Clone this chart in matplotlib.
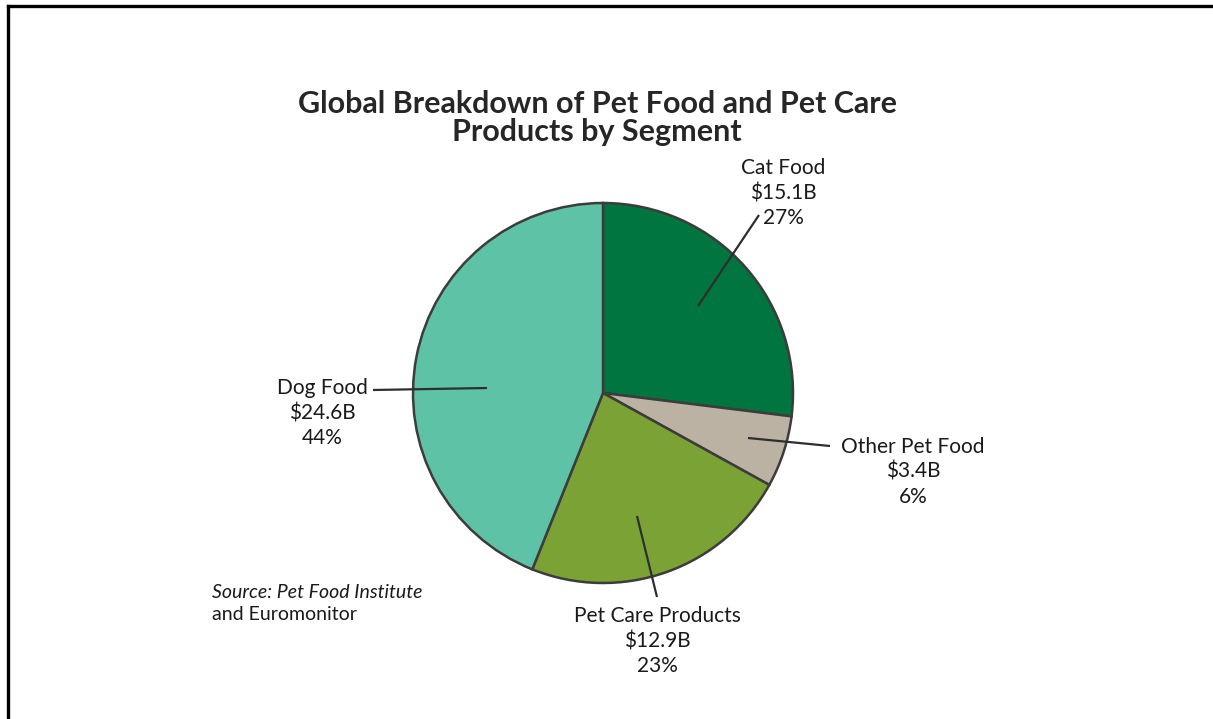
import matplotlib.pyplot as plt
from matplotlib.lines import Line2D

# segment values, in billions of dollars
segments = ['Cat Food', 'Other Pet Food', 'Pet Care Products', 'Dog Food']
sales = [15.1, 3.4, 12.9, 24.6]
shares = [27, 6, 23, 44]
colors = ['#007540', '#bcb2a3', '#7ba234', '#5ec3a6']

W, H = 1213, 719
CENTER = (603, H - 393)
RADIUS = 190

# label placement: (text x, text y, leader start, leader end), in pixels from top-left
layout = {
    'Cat Food': (783, 193, (698, 306), (759, 215)),
    'Other Pet Food': (913, 472, (748, 438), (830, 446)),
    'Pet Care Products': (657, 641, (637, 516), (657, 597)),
    'Dog Food': (322, 413, (487, 388), (373, 390)),
}

plt.rcParams['font.family'] = ['Lato', 'DejaVu Sans']

fig = plt.figure(figsize=(W / 100, H / 100), dpi=100)
ax = fig.add_axes([0, 0, 1, 1])

ax.pie(sales, colors=colors, startangle=90, counterclock=False,
       center=CENTER, radius=RADIUS,
       wedgeprops=dict(edgecolor='#3c3c3c', linewidth=1.8))

# pie() resets the limits, so fix them afterwards
ax.set_xlim(0, W)
ax.set_ylim(0, H)
ax.set_aspect('equal')
ax.axis('off')

for name, val, pct in zip(segments, sales, shares):
    tx, ty, p0, p1 = layout[name]
    ax.plot([p0[0], p1[0]], [H - p0[1], H - p1[1]], color='#2e2e2e', lw=1.6,
            solid_capstyle='butt')
    ax.text(tx, H - ty, f'{name}\n${val}B\n{pct}%', ha='center', va='center',
            fontsize=15, color='#1a1a1a', linespacing=1.3)

ax.text(597, H - 118, 'Global Breakdown of Pet Food and Pet Care\nProducts by Segment',
        ha='center', va='center', fontsize=22, fontweight='bold',
        color='#262626', linespacing=0.98)

ax.text(212, H - 593, 'Source: Pet Food Institute', ha='left', va='center',
        fontsize=14, style='italic', color='#1a1a1a')
ax.text(212, H - 614, 'and Euromonitor', ha='left', va='center',
        fontsize=14, color='#1a1a1a')

# frame lines along the top and left edges
fig.add_artist(Line2D([8 / W, 1], [1 - 6 / H, 1 - 6 / H], color='black', lw=2.4))
fig.add_artist(Line2D([8 / W, 8 / W], [0, 1 - 6 / H], color='black', lw=2.4))

fig.savefig('out.png', dpi=100)
